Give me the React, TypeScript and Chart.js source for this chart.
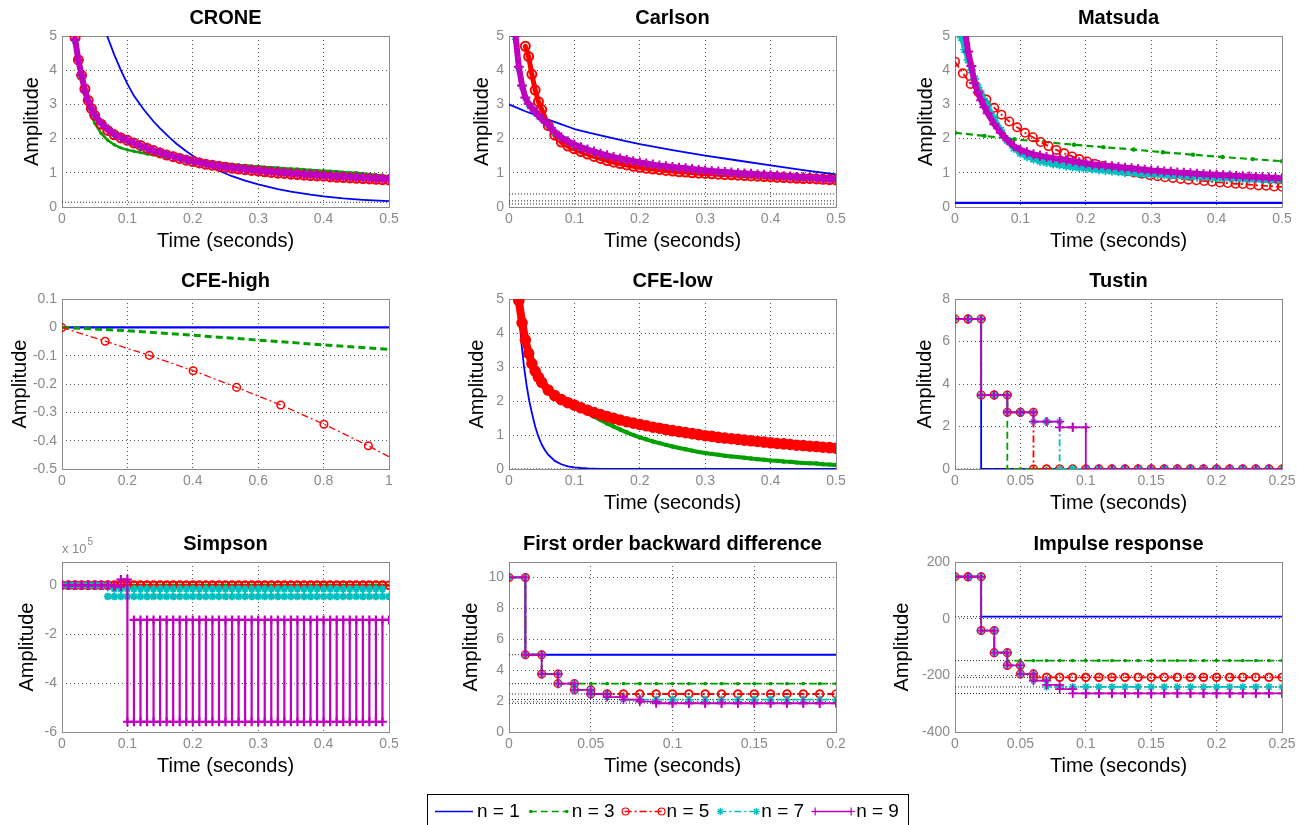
import React, { useEffect, useRef } from 'react';
import { Chart, registerables } from 'chart.js';

Chart.register(...registerables);

const FONT = '"Liberation Sans", Arial, Helvetica, sans-serif';
Chart.defaults.font.family = FONT;

// ---------------- data ----------------
const SERIES_LABELS = ['n = 1', 'n = 3', 'n = 5', 'n = 7', 'n = 9'];

// shared time grid for the continuous step responses (seconds)
const T_CONT = [
  0, 0.005, 0.01, 0.015, 0.02, 0.025, 0.03, 0.035, 0.04, 0.045, 0.05,
  0.06, 0.07, 0.08, 0.09, 0.1, 0.11, 0.12, 0.13, 0.14, 0.15,
  0.16, 0.17, 0.18, 0.19, 0.2, 0.21, 0.22, 0.23, 0.24, 0.25,
  0.26, 0.27, 0.28, 0.29, 0.3, 0.31, 0.32, 0.33, 0.34, 0.35,
  0.36, 0.37, 0.38, 0.39, 0.4, 0.41, 0.42, 0.43, 0.44, 0.45,
  0.46, 0.47, 0.48, 0.49, 0.5,
];

// sample instants of the discrete responses (Ts = 0.01 s)
const STEP_T = [
  0, 0.01, 0.02, 0.03, 0.04, 0.05, 0.06, 0.07, 0.08, 0.09,
  0.1, 0.11, 0.12, 0.13, 0.14, 0.15, 0.16, 0.17, 0.18, 0.19,
  0.2, 0.21, 0.22, 0.23, 0.24, 0.25, 0.26, 0.27, 0.28, 0.29,
  0.3, 0.31, 0.32, 0.33, 0.34, 0.35, 0.36, 0.37, 0.38, 0.39,
  0.4, 0.41, 0.42, 0.43, 0.44, 0.45, 0.46, 0.47, 0.48, 0.49, 0.5,
];

// tick values
const X_TICKS_HALF = [0, 0.1, 0.2, 0.3, 0.4, 0.5];
const X_TICKS_ONE = [0, 0.2, 0.4, 0.6, 0.8, 1];
const X_TICKS_QUARTER = [0, 0.05, 0.1, 0.15, 0.2, 0.25];
const X_TICKS_FIFTH = [0, 0.05, 0.1, 0.15, 0.2];
const Y_TICKS_FIVE = [0, 1, 2, 3, 4, 5];
const Y_TICKS_CFEH = [-0.5, -0.4, -0.3, -0.2, -0.1, 0, 0.1];
const Y_TICKS_EIGHT = [0, 2, 4, 6, 8];
const Y_TICKS_SIMP = [-600000, -400000, -200000, 0];
const Y_TICKS_TEN = [0, 2, 4, 6, 8, 10];
const Y_TICKS_IMP = [-400, -200, 0, 200];

// ---- CRONE ----
const CRONE_N1_T = [0.06, 0.069, 0.08, 0.09, 0.1, 0.11, 0.125, 0.14, 0.15, 0.165, 0.175, 0.19, 0.2, 0.22, 0.24, 0.26, 0.28, 0.3, 0.33, 0.35, 0.38, 0.4, 0.43, 0.46, 0.5];
const CRONE_N1 = [5.55, 5.0, 4.45, 4.0, 3.6, 3.25, 2.85, 2.5, 2.3, 2.02, 1.85, 1.63, 1.5, 1.26, 1.06, 0.9, 0.77, 0.66, 0.52, 0.45, 0.36, 0.31, 0.25, 0.21, 0.17];
const CRONE_N3 = [
  null, null, null, null, 4.9, 4.2, 3.7, 3.3, 2.95, 2.7, 2.45,
  2.15, 1.95, 1.82, 1.73, 1.67, 1.63, 1.59, 1.55, 1.52, 1.49,
  1.46, 1.43, 1.41, 1.38, 1.36, 1.34, 1.32, 1.3, 1.28, 1.27,
  1.25, 1.23, 1.22, 1.2, 1.19, 1.17, 1.16, 1.15, 1.13, 1.12,
  1.11, 1.1, 1.08, 1.07, 1.06, 1.05, 1.04, 1.02, 1.01, 1.0,
  0.98, 0.96, 0.94, 0.92, 0.9,
];
const CRONE_N5 = [
  null, null, null, null, 4.95, 4.3, 3.85, 3.45, 3.12, 2.88, 2.68,
  2.42, 2.24, 2.11, 2.02, 1.95, 1.87, 1.8, 1.72, 1.65, 1.58,
  1.52, 1.47, 1.42, 1.37, 1.33, 1.29, 1.25, 1.22, 1.19, 1.16,
  1.13, 1.11, 1.09, 1.07, 1.05, 1.03, 1.01, 0.99, 0.98, 0.96,
  0.95, 0.93, 0.92, 0.91, 0.9, 0.88, 0.87, 0.86, 0.85, 0.84,
  0.83, 0.82, 0.81, 0.8, 0.79,
];
const CRONE_N7 = [
  null, null, null, null, 4.85, 4.25, 3.8, 3.42, 3.1, 2.87, 2.69,
  2.44, 2.26, 2.12, 2.02, 1.94, 1.86, 1.79, 1.72, 1.65, 1.59,
  1.53, 1.48, 1.43, 1.38, 1.34, 1.3, 1.26, 1.23, 1.2, 1.17,
  1.15, 1.13, 1.11, 1.09, 1.07, 1.05, 1.04, 1.02, 1.01, 0.99,
  0.98, 0.96, 0.95, 0.94, 0.92, 0.91, 0.9, 0.89, 0.88, 0.87,
  0.86, 0.85, 0.84, 0.83, 0.82,
];
const CRONE_N9 = [
  null, null, null, null, 4.9, 4.3, 3.85, 3.4, 3.1, 2.88, 2.7,
  2.45, 2.27, 2.13, 2.03, 1.95, 1.87, 1.79, 1.72, 1.65, 1.59,
  1.53, 1.48, 1.43, 1.38, 1.34, 1.3, 1.26, 1.23, 1.2, 1.17,
  1.15, 1.13, 1.11, 1.09, 1.07, 1.05, 1.04, 1.02, 1.01, 0.99,
  0.98, 0.96, 0.95, 0.94, 0.92, 0.91, 0.9, 0.89, 0.88, 0.87,
  0.86, 0.85, 0.84, 0.83, 0.82,
];
const CRONE_SS = [0.14];

// ---- Carlson ----
const CARLSON_N1_T = [0, 0.025, 0.05, 0.075, 0.1, 0.125, 0.15, 0.175, 0.2, 0.25, 0.3, 0.35, 0.4, 0.45, 0.5];
const CARLSON_N1 = [3.0, 2.8, 2.62, 2.45, 2.28, 2.16, 2.05, 1.94, 1.84, 1.66, 1.5, 1.36, 1.22, 1.08, 0.95];
const CARLSON_N3 = [
  null, null, null, null, null, 4.6, 4.3, 3.85, 3.4, 3.07, 2.83,
  2.37, 2.09, 1.89, 1.77, 1.69, 1.61, 1.54, 1.47, 1.41, 1.35,
  1.3, 1.26, 1.22, 1.19, 1.16, 1.13, 1.11, 1.09, 1.07, 1.05,
  1.03, 1.02, 1.0, 0.99, 0.98, 0.97, 0.96, 0.95, 0.94, 0.93,
  0.92, 0.91, 0.9, 0.89, 0.88, 0.87, 0.86, 0.85, 0.84, 0.83,
  0.83, 0.82, 0.81, 0.8, 0.79,
];
const CARLSON_N5 = [
  null, null, null, null, null, 4.7, 4.4, 3.88, 3.42, 3.08, 2.85,
  2.38, 2.1, 1.9, 1.78, 1.7, 1.62, 1.55, 1.48, 1.42, 1.36,
  1.31, 1.27, 1.23, 1.19, 1.16, 1.13, 1.11, 1.09, 1.07, 1.05,
  1.03, 1.02, 1.0, 0.99, 0.98, 0.97, 0.96, 0.95, 0.94, 0.93,
  0.92, 0.91, 0.9, 0.89, 0.88, 0.87, 0.86, 0.85, 0.84, 0.83,
  0.83, 0.82, 0.81, 0.8, 0.79,
];
const CARLSON_N7 = [
  null, null, 4.9, 4.05, 3.52, 3.18, 3.0, 2.88, 2.76, 2.66, 2.56,
  2.38, 2.18, 2.02, 1.9, 1.81, 1.73, 1.66, 1.6, 1.55, 1.5,
  1.45, 1.41, 1.37, 1.33, 1.29, 1.26, 1.23, 1.2, 1.18, 1.16,
  1.14, 1.12, 1.1, 1.08, 1.06, 1.04, 1.03, 1.01, 1.0, 0.98,
  0.97, 0.96, 0.94, 0.93, 0.92, 0.91, 0.89, 0.88, 0.87, 0.86,
  0.85, 0.84, 0.82, 0.81, 0.8,
];
const CARLSON_N9 = [
  null, null, 5.0, 4.1, 3.55, 3.2, 3.02, 2.9, 2.78, 2.68, 2.58,
  2.4, 2.2, 2.04, 1.92, 1.83, 1.75, 1.68, 1.62, 1.56, 1.51,
  1.46, 1.42, 1.38, 1.34, 1.3, 1.27, 1.24, 1.21, 1.19, 1.17,
  1.15, 1.13, 1.11, 1.09, 1.07, 1.05, 1.04, 1.02, 1.01, 0.99,
  0.98, 0.97, 0.95, 0.94, 0.93, 0.92, 0.9, 0.89, 0.88, 0.87,
  0.86, 0.85, 0.83, 0.82, 0.81,
];
const CARLSON_SS = [0.38, 0.18, 0.09];

// ---- Matsuda ----
const MATSUDA_N1_T = [0, 0.5];
const MATSUDA_N1 = [0.12, 0.12];
const MATSUDA_N3_T = [0, 0.045, 0.091, 0.136, 0.182, 0.227, 0.273, 0.318, 0.364, 0.409, 0.455, 0.5];
const MATSUDA_N3 = [2.17, 2.08, 1.98, 1.9, 1.82, 1.75, 1.68, 1.6, 1.53, 1.46, 1.4, 1.34];
const MATSUDA_N5_T = [
  0, 0.012, 0.024, 0.036, 0.048, 0.06, 0.071, 0.083, 0.095, 0.107,
  0.119, 0.131, 0.143, 0.155, 0.167, 0.179, 0.19, 0.202, 0.214, 0.226,
  0.238, 0.25, 0.262, 0.274, 0.286, 0.298, 0.31, 0.321, 0.333, 0.345,
  0.357, 0.369, 0.381, 0.393, 0.405, 0.417, 0.429, 0.44, 0.452, 0.464,
  0.476, 0.488, 0.5,
];
const MATSUDA_N5 = [
  4.25, 3.91, 3.6, 3.35, 3.14, 2.9, 2.7, 2.5, 2.33, 2.17,
  2.04, 1.9, 1.78, 1.67, 1.57, 1.48, 1.4, 1.33, 1.26, 1.2,
  1.14, 1.09, 1.05, 1.01, 0.97, 0.93, 0.9, 0.87, 0.85, 0.82,
  0.8, 0.78, 0.76, 0.74, 0.72, 0.7, 0.68, 0.67, 0.65, 0.63,
  0.62, 0.6, 0.59,
];
const MATSUDA_N7 = [
  null, null, 4.95, 4.6, 4.3, 4.0, 3.75, 3.5, 3.3, 3.1, 2.95,
  2.6, 2.25, 1.95, 1.72, 1.57, 1.47, 1.4, 1.34, 1.3, 1.26,
  1.23, 1.2, 1.17, 1.15, 1.13, 1.11, 1.09, 1.07, 1.05, 1.03,
  1.01, 1.0, 0.98, 0.97, 0.96, 0.95, 0.94, 0.93, 0.92, 0.91,
  0.9, 0.89, 0.88, 0.87, 0.86, 0.85, 0.85, 0.84, 0.83, 0.82,
  0.82, 0.81, 0.8, 0.8, 0.79,
];
const MATSUDA_N9 = [
  null, null, null, 5.2, 4.55, 4.12, 3.62, 3.35, 3.12, 2.92, 2.74,
  2.42, 2.17, 1.95, 1.78, 1.67, 1.6, 1.54, 1.5, 1.46, 1.43,
  1.4, 1.37, 1.34, 1.31, 1.28, 1.25, 1.23, 1.21, 1.19, 1.17,
  1.15, 1.13, 1.11, 1.09, 1.07, 1.06, 1.04, 1.03, 1.01, 1.0,
  0.99, 0.97, 0.96, 0.95, 0.94, 0.93, 0.92, 0.91, 0.9, 0.89,
  0.88, 0.87, 0.86, 0.85, 0.84,
];
const MATSUDA_SS = [0.12];

// ---- CFE-high ----
const CFEH_N1_T = [0, 1];
const CFEH_N1 = [0, 0];
const CFEH_N3_T = [0, 0.2, 0.4, 0.6, 0.8, 1];
const CFEH_N3 = [0, -0.012, -0.028, -0.045, -0.062, -0.078];
const CFEH_N5_T = [0, 0.132, 0.267, 0.401, 0.534, 0.669, 0.801, 0.937, 1];
const CFEH_N5 = [-0.001, -0.049, -0.099, -0.153, -0.212, -0.274, -0.342, -0.418, -0.457];

// ---- CFE-low ----
const CFEL_N1_T = [0.012, 0.015, 0.019, 0.023, 0.027, 0.031, 0.035, 0.04, 0.045, 0.05, 0.055, 0.06, 0.07, 0.08, 0.09, 0.1, 0.11, 0.12, 0.14, 0.5];
const CFEL_N1 = [5.3, 4.65, 3.7, 3.0, 2.45, 2.0, 1.65, 1.25, 0.95, 0.72, 0.55, 0.42, 0.24, 0.14, 0.08, 0.05, 0.03, 0.015, 0.005, 0];
const CFEL_N3 = [
  null, null, null, 5.0, 4.2, 3.7, 3.35, 3.05, 2.82, 2.64, 2.5,
  2.28, 2.12, 2.0, 1.92, 1.86, 1.76, 1.65, 1.54, 1.44, 1.34,
  1.25, 1.16, 1.08, 1.0, 0.93, 0.87, 0.81, 0.76, 0.71, 0.66,
  0.62, 0.58, 0.54, 0.5, 0.47, 0.44, 0.42, 0.39, 0.37, 0.35,
  0.33, 0.31, 0.29, 0.27, 0.25, 0.24, 0.22, 0.21, 0.19, 0.18,
  0.17, 0.16, 0.14, 0.13, 0.12,
];
const CFEL_N5 = [
  null, null, null, 4.95, 4.3, 3.8, 3.4, 3.1, 2.88, 2.7, 2.55,
  2.32, 2.16, 2.04, 1.95, 1.88, 1.8, 1.73, 1.66, 1.6, 1.54,
  1.49, 1.44, 1.39, 1.35, 1.31, 1.27, 1.23, 1.2, 1.16, 1.13,
  1.1, 1.07, 1.04, 1.01, 0.98, 0.96, 0.93, 0.91, 0.89, 0.87,
  0.85, 0.83, 0.81, 0.79, 0.77, 0.75, 0.74, 0.72, 0.7, 0.69,
  0.67, 0.66, 0.64, 0.63, 0.61,
];
const CFEL_SS = [0];

// ---- Tustin (sample values, Ts = 0.01) ----
const TUSTIN_N1 = [7.06, 7.06, 0, 0, 0, 0, 0, 0, 0, 0, 0, 0, 0, 0, 0, 0, 0, 0, 0, 0, 0, 0, 0, 0, 0];
const TUSTIN_N3 = [7.06, 7.06, 3.48, 3.48, 0, 0, 0, 0, 0, 0, 0, 0, 0, 0, 0, 0, 0, 0, 0, 0, 0, 0, 0, 0, 0];
const TUSTIN_N5 = [7.06, 7.06, 3.48, 3.48, 2.67, 2.67, 0, 0, 0, 0, 0, 0, 0, 0, 0, 0, 0, 0, 0, 0, 0, 0, 0, 0, 0];
const TUSTIN_N7 = [7.06, 7.06, 3.48, 3.48, 2.67, 2.67, 2.23, 2.23, 0, 0, 0, 0, 0, 0, 0, 0, 0, 0, 0, 0, 0, 0, 0, 0, 0];
const TUSTIN_N9 = [7.06, 7.06, 3.48, 3.48, 2.67, 2.67, 2.23, 2.23, 1.96, 1.96, 0, 0, 0, 0, 0, 0, 0, 0, 0, 0, 0, 0, 0, 0, 0];
const TUSTIN_SS = [0];

// ---- Simpson (sample values, Ts = 0.01) ----
const SIMP_N1 = [
  0, 0, 0, 0, 0, 0, 0, 0, 0, 0, 0, 0, 0, 0, 0, 0, 0, 0, 0, 0, 0, 0, 0, 0, 0,
  0, 0, 0, 0, 0, 0, 0, 0, 0, 0, 0, 0, 0, 0, 0, 0, 0, 0, 0, 0, 0, 0, 0, 0, 0,
];
const SIMP_N3 = [
  0, 0, 0, 0, 0, 0, 0, 0, 0, 0, 0, 0, 0, 0, 0, 0, 0, 0, 0, 0, 0, 0, 0, 0, 0,
  0, 0, 0, 0, 0, 0, 0, 0, 0, 0, 0, 0, 0, 0, 0, 0, 0, 0, 0, 0, 0, 0, 0, 0, 0,
];
const SIMP_N5 = [
  0, 0, 0, 0, 0, 0, 0, 0, 0, 0, 0, 0, 0, 0, 0, 0, 0, 0, 0, 0, 0, 0, 0, 0, 0,
  0, 0, 0, 0, 0, 0, 0, 0, 0, 0, 0, 0, 0, 0, 0, 0, 0, 0, 0, 0, 0, 0, 0, 0, 0,
];
const SIMP_N7 = [
  0, 0, 0, 0, 0, 0, 0, -46000, -15000, -46000,
  -15000, -46000, -15000, -46000, -15000, -46000, -15000, -46000, -15000, -46000,
  -15000, -46000, -15000, -46000, -15000, -46000, -15000, -46000, -15000, -46000,
  -15000, -46000, -15000, -46000, -15000, -46000, -15000, -46000, -15000, -46000,
  -15000, -46000, -15000, -46000, -15000, -46000, -15000, -46000, -15000, -46000,
];
const SIMP_N9 = [
  0, 0, 0, 0, 0, 0, 0, 0, -5000, 23000,
  -558000, -142000, -558000, -142000, -558000, -142000, -558000, -142000, -558000, -142000,
  -558000, -142000, -558000, -142000, -558000, -142000, -558000, -142000, -558000, -142000,
  -558000, -142000, -558000, -142000, -558000, -142000, -558000, -142000, -558000, -142000,
  -558000, -142000, -558000, -142000, -558000, -142000, -558000, -142000, -558000, -142000,
];
const SIMP_SS = [0];

// ---- First order backward difference (sample values, Ts = 0.01) ----
const FOBD_N1 = [10, 5, 5, 5, 5, 5, 5, 5, 5, 5, 5, 5, 5, 5, 5, 5, 5, 5, 5, 5];
const FOBD_N3 = [10, 5, 3.75, 3.13, 3.13, 3.13, 3.13, 3.13, 3.13, 3.13, 3.13, 3.13, 3.13, 3.13, 3.13, 3.13, 3.13, 3.13, 3.13, 3.13];
const FOBD_N5 = [10, 5, 3.75, 3.13, 2.73, 2.46, 2.46, 2.46, 2.46, 2.46, 2.46, 2.46, 2.46, 2.46, 2.46, 2.46, 2.46, 2.46, 2.46, 2.46];
const FOBD_N7 = [10, 5, 3.75, 3.13, 2.73, 2.46, 2.26, 2.1, 2.1, 2.1, 2.1, 2.1, 2.1, 2.1, 2.1, 2.1, 2.1, 2.1, 2.1, 2.1];
const FOBD_N9 = [10, 5, 3.75, 3.13, 2.73, 2.46, 2.26, 2.1, 1.96, 1.86, 1.86, 1.86, 1.86, 1.86, 1.86, 1.86, 1.86, 1.86, 1.86, 1.86];
const FOBD_SS = [5, 3.13, 2.46, 2.1, 1.86];

// ---- Impulse response (sample values, Ts = 0.01) ----
const IMP_N1 = [148, 148, 7, 7, 7, 7, 7, 7, 7, 7, 7, 7, 7, 7, 7, 7, 7, 7, 7, 7, 7, 7, 7, 7, 7];
const IMP_N3 = [148, 148, -42, -120, -148, -148, -148, -148, -148, -148, -148, -148, -148, -148, -148, -148, -148, -148, -148, -148, -148, -148, -148, -148, -148];
const IMP_N5 = [148, 148, -42, -120, -165, -195, -207, -207, -207, -207, -207, -207, -207, -207, -207, -207, -207, -207, -207, -207, -207, -207, -207, -207, -207];
const IMP_N7 = [148, 148, -42, -120, -165, -195, -219, -241, -241, -241, -241, -241, -241, -241, -241, -241, -241, -241, -241, -241, -241, -241, -241, -241, -241];
const IMP_N9 = [148, 148, -42, -120, -165, -195, -219, -234, -249, -264, -264, -264, -264, -264, -264, -264, -264, -264, -264, -264, -264, -264, -264, -264, -264];
const IMP_SS = [7, -148, -207, -241, -264];

// ---------------- styles ----------------
const COLORS = ['#0000ff', '#00a000', '#ff0000', '#00bfbf', '#bf00bf'];
const DASHES = [[], [7, 4], [7, 3, 2, 3], [7, 3, 2, 3], []];
const MARKERS = ['none', 'dot', 'circle', 'star', 'cross'];
const MARKER_R = [0, 1.7, 3.8, 3.8, 4.5];
const MARKER_W = [1, 0, 1.5, 1.3, 1.8];
const TICK_COLOR = '#8a8a8a';
const BOX_COLOR = '#8a8a8a';
const GRID_COLOR = '#5a5a5a';

const ROW_TOP = [36, 299, 562];
const ROW_H = [171, 170, 170];
const COL_LEFT = [62, 509, 955];
const PLOT_W = 327;
const Y_AXIS_W = 72;
const X_AXIS_H = 50;
const TITLE_H = 40;
const RIGHT_PAD = 20;

type Series = {
  n: number; t?: number[]; v: (number | null)[]; stairs?: boolean; width?: number; radii?: number[];
  pw?: number; pr?: number; solid?: boolean;
};
type Sub = {
  title: string; row: number; col: number; x: [number, number]; xt: number[]; y: [number, number]; yt: number[];
  yPad: number; xTitle: boolean; ss: number[]; series: Series[]; yScale?: number; exponent?: boolean;
};

// dense-marker bands of the reference are rendered as a wide stroke with markers on top
const SUBPLOTS: Sub[] = [
  {
    title: 'CRONE', row: 0, col: 0, x: [0, 0.5], xt: X_TICKS_HALF, y: [0, 5], yt: Y_TICKS_FIVE, yPad: 30, xTitle: true, ss: CRONE_SS,
    series: [
      { n: 0, t: CRONE_N1_T, v: CRONE_N1 },
      { n: 1, t: T_CONT, v: CRONE_N3, width: 2.5, solid: true },
      { n: 2, t: T_CONT, v: CRONE_N5, width: 5, solid: true, pr: 4.5, pw: 2 },
      { n: 3, t: T_CONT, v: CRONE_N7, width: 4, solid: true },
      { n: 4, t: T_CONT, v: CRONE_N9, width: 6, pr: 5, pw: 2 },
    ],
  },
  {
    title: 'Carlson', row: 0, col: 1, x: [0, 0.5], xt: X_TICKS_HALF, y: [0, 5], yt: Y_TICKS_FIVE, yPad: 33, xTitle: true, ss: CARLSON_SS,
    series: [
      { n: 0, t: CARLSON_N1_T, v: CARLSON_N1 },
      { n: 1, t: T_CONT, v: CARLSON_N3, width: 2.5, solid: true },
      { n: 2, t: T_CONT, v: CARLSON_N5, width: 5, solid: true, pr: 4.5, pw: 2 },
      { n: 3, t: T_CONT, v: CARLSON_N7, width: 4, solid: true },
      { n: 4, t: T_CONT, v: CARLSON_N9, width: 6, pr: 5, pw: 2 },
    ],
  },
  {
    title: 'Matsuda', row: 0, col: 2, x: [0, 0.5], xt: X_TICKS_HALF, y: [0, 5], yt: Y_TICKS_FIVE, yPad: 31, xTitle: true, ss: MATSUDA_SS,
    series: [
      { n: 0, t: MATSUDA_N1_T, v: MATSUDA_N1, width: 2.2 },
      { n: 1, t: MATSUDA_N3_T, v: MATSUDA_N3, width: 2.2, pr: 2.2 },
      { n: 2, t: MATSUDA_N5_T, v: MATSUDA_N5, pr: 4.2, pw: 1.6 },
      { n: 3, t: T_CONT, v: MATSUDA_N7, width: 5, solid: true, pr: 4.5, pw: 1.8 },
      { n: 4, t: T_CONT, v: MATSUDA_N9, width: 6, pr: 5, pw: 2 },
    ],
  },
  {
    title: 'CFE-high', row: 1, col: 0, x: [0, 1], xt: X_TICKS_ONE, y: [-0.5, 0.1], yt: Y_TICKS_CFEH, yPad: 18, xTitle: false, ss: [],
    series: [
      { n: 0, t: CFEH_N1_T, v: CFEH_N1, width: 2.2 },
      { n: 1, t: CFEH_N3_T, v: CFEH_N3, width: 3, radii: [2, 0, 0, 0, 0, 0] },
      { n: 2, t: CFEH_N5_T, v: CFEH_N5, width: 1.3, radii: [3.8, 3.8, 3.8, 3.8, 3.8, 3.8, 3.8, 3.8, 0] },
    ],
  },
  {
    title: 'CFE-low', row: 1, col: 1, x: [0, 0.5], xt: X_TICKS_HALF, y: [0, 5], yt: Y_TICKS_FIVE, yPad: 28, xTitle: true, ss: CFEL_SS,
    series: [
      { n: 0, t: CFEL_N1_T, v: CFEL_N1 },
      { n: 1, t: T_CONT, v: CFEL_N3, width: 4, solid: true, pr: 2.2 },
      { n: 2, t: T_CONT, v: CFEL_N5, width: 8, solid: true, pw: 2.6, pr: 4.5 },
    ],
  },
  {
    title: 'Tustin', row: 1, col: 2, x: [0, 0.25], xt: X_TICKS_QUARTER, y: [0, 8], yt: Y_TICKS_EIGHT, yPad: 30, xTitle: true, ss: TUSTIN_SS,
    series: [
      { n: 0, v: TUSTIN_N1, stairs: true }, { n: 1, v: TUSTIN_N3, stairs: true }, { n: 2, v: TUSTIN_N5, stairs: true },
      { n: 3, v: TUSTIN_N7, stairs: true }, { n: 4, v: TUSTIN_N9, stairs: true },
    ],
  },
  {
    title: 'Simpson', row: 2, col: 0, x: [0, 0.5], xt: X_TICKS_HALF, y: [-600000, 95000], yt: Y_TICKS_SIMP, yPad: 25, xTitle: true, ss: SIMP_SS,
    yScale: 100000, exponent: true,
    series: [
      { n: 0, v: SIMP_N1, stairs: true }, { n: 1, v: SIMP_N3, stairs: true }, { n: 2, v: SIMP_N5, stairs: true, pw: 2 },
      { n: 3, v: SIMP_N7, stairs: true, pw: 2 }, { n: 4, v: SIMP_N9, stairs: true, width: 2.2, pw: 2.2 },
    ],
  },
  {
    title: 'First order backward difference', row: 2, col: 1, x: [0, 0.2], xt: X_TICKS_FIFTH, y: [0, 11], yt: Y_TICKS_TEN, yPad: 22, xTitle: true, ss: FOBD_SS,
    series: [
      { n: 0, v: FOBD_N1, stairs: true }, { n: 1, v: FOBD_N3, stairs: true }, { n: 2, v: FOBD_N5, stairs: true },
      { n: 3, v: FOBD_N7, stairs: true }, { n: 4, v: FOBD_N9, stairs: true },
    ],
  },
  {
    title: 'Impulse response', row: 2, col: 2, x: [0, 0.25], xt: X_TICKS_QUARTER, y: [-400, 200], yt: Y_TICKS_IMP, yPad: 7, xTitle: true, ss: IMP_SS,
    series: [
      { n: 0, v: IMP_N1, stairs: true }, { n: 1, v: IMP_N3, stairs: true }, { n: 2, v: IMP_N5, stairs: true },
      { n: 3, v: IMP_N7, stairs: true }, { n: 4, v: IMP_N9, stairs: true },
    ],
  },
];

// ---------------- helpers ----------------
function fmt(v: number): string {
  const r = Math.round(v * 1e6) / 1e6;
  return String(r === 0 ? 0 : r);
}

function toPoints(ts: number[], vs: (number | null)[]) {
  const out: { x: number; y: number }[] = [];
  vs.forEach((v, i) => {
    if (v !== null && v !== undefined) out.push({ x: ts[i], y: v });
  });
  return out;
}

function stairPoints(vs: (number | null)[]) {
  const out: { x: number; y: number }[] = [];
  for (let k = 0; k < vs.length; k++) {
    const v = vs[k] as number;
    out.push({ x: STEP_T[k], y: v }, { x: STEP_T[k + 1], y: v });
  }
  return out;
}

function markerStyle(i: number) {
  const m = MARKERS[i];
  if (m === 'none') return { pointRadius: 0 };
  if (m === 'dot')
    return { pointStyle: 'circle', pointRadius: MARKER_R[i], pointBackgroundColor: COLORS[i], pointBorderColor: COLORS[i], pointBorderWidth: 0 };
  return { pointStyle: m, pointRadius: MARKER_R[i], pointBackgroundColor: 'rgba(0,0,0,0)', pointBorderColor: COLORS[i], pointBorderWidth: MARKER_W[i] };
}

function seriesDataset(s: Series) {
  const i = s.n;
  const data = s.stairs ? stairPoints(s.v) : toPoints(s.t as number[], s.v);
  const ds: any = {
    label: SERIES_LABELS[i],
    data,
    borderColor: COLORS[i],
    borderWidth: s.width ?? 1.8,
    borderDash: s.solid ? [] : DASHES[i],
    borderJoinStyle: 'round',
    borderCapStyle: 'round',
    order: 10 - 2 * i,
    pointHoverRadius: 0,
    ...markerStyle(i),
  };
  if (!s.solid && DASHES[i].length) ds.borderCapStyle = 'butt';
  if (s.pr !== undefined) ds.pointRadius = s.pr;
  if (s.pw !== undefined) ds.pointBorderWidth = s.pw;
  if (s.radii) ds.pointRadius = s.radii;
  return ds;
}

function steadyDataset(v: number, x0: number, x1: number) {
  return {
    label: 'steady',
    data: [{ x: x0, y: v }, { x: x1, y: v }],
    borderColor: '#222222',
    borderWidth: 1,
    borderDash: [1, 2],
    pointRadius: 0,
    pointHoverRadius: 0,
    order: 50,
  };
}

const boxPlugin = {
  id: 'matlabBox',
  beforeDatasetsDraw(chart: any) {
    const { ctx, chartArea: a } = chart;
    ctx.save();
    ctx.strokeStyle = BOX_COLOR;
    ctx.lineWidth = 1;
    ctx.setLineDash([]);
    ctx.strokeRect(Math.round(a.left) + 0.5, Math.round(a.top) + 0.5, Math.round(a.right - a.left), Math.round(a.bottom - a.top));
    ctx.restore();
  },
};

function exponentPlugin(show: boolean) {
  return {
    id: 'exponentLabel',
    afterDraw(chart: any) {
      if (!show) return;
      const { ctx, chartArea: a } = chart;
      ctx.save();
      ctx.fillStyle = TICK_COLOR;
      ctx.textBaseline = 'middle';
      ctx.textAlign = 'left';
      ctx.font = `13px ${FONT}`;
      ctx.fillText('x 10', a.left, a.top - 13);
      const w = ctx.measureText('x 10').width;
      ctx.font = `10px ${FONT}`;
      ctx.fillText('5', a.left + w + 1, a.top - 20);
      ctx.restore();
    },
  };
}

function buildConfig(cfg: Sub): any {
  const datasets: any[] = cfg.series.map(seriesDataset);
  cfg.ss.forEach((v) => datasets.push(steadyDataset(v, cfg.x[0], cfg.x[1])));
  const yScale = cfg.yScale ?? 1;
  const tickFont = { family: FONT, size: 14 };
  return {
    type: 'line',
    data: { datasets },
    options: {
      responsive: false,
      animation: false,
      events: [],
      layout: { padding: { left: 0, right: RIGHT_PAD, top: 0, bottom: 0 } },
      plugins: {
        legend: { display: false },
        tooltip: { enabled: false },
        title: {
          display: true,
          text: cfg.title,
          fullSize: false,
          color: '#000',
          font: { family: FONT, size: 20, weight: 'bold', lineHeight: 1.2 },
          padding: { top: 10, bottom: 6 },
        },
      },
      scales: {
        x: {
          type: 'linear',
          min: cfg.x[0],
          max: cfg.x[1],
          afterBuildTicks: (s: any) => {
            s.ticks = cfg.xt.map((v) => ({ value: v }));
          },
          afterFit: (s: any) => {
            s.height = X_AXIS_H;
          },
          ticks: { color: TICK_COLOR, font: tickFont, padding: 4, autoSkip: false, maxRotation: 0, minRotation: 0, callback: (v: number) => fmt(v) },
          grid: { color: GRID_COLOR, lineWidth: 1, drawTicks: false },
          border: { display: false, dash: [1, 3] },
          title: {
            display: cfg.xTitle,
            text: 'Time (seconds)',
            color: '#000',
            font: { family: FONT, size: 20, lineHeight: 1.2 },
            padding: { top: 0, bottom: 4 },
          },
        },
        y: {
          type: 'linear',
          min: cfg.y[0],
          max: cfg.y[1],
          afterBuildTicks: (s: any) => {
            s.ticks = cfg.yt.map((v) => ({ value: v }));
          },
          afterFit: (s: any) => {
            s.width = Y_AXIS_W;
          },
          ticks: { color: TICK_COLOR, font: tickFont, padding: 5, autoSkip: false, callback: (v: number) => fmt(v / yScale) },
          grid: { color: GRID_COLOR, lineWidth: 1, drawTicks: false },
          border: { display: false, dash: [1, 3] },
          title: {
            display: true,
            text: 'Amplitude',
            color: '#000',
            font: { family: FONT, size: 20, lineHeight: 1.2 },
            padding: { top: cfg.yPad, bottom: 0 },
          },
        },
      },
    },
    plugins: [boxPlugin, exponentPlugin(!!cfg.exponent)],
  };
}

function Subplot({ cfg }: { cfg: Sub }) {
  const ref = useRef<HTMLCanvasElement | null>(null);
  const plotLeft = COL_LEFT[cfg.col];
  const plotTop = ROW_TOP[cfg.row];
  const h = ROW_H[cfg.row];
  const width = Y_AXIS_W + PLOT_W + RIGHT_PAD;
  const height = TITLE_H + h + X_AXIS_H;
  useEffect(() => {
    if (!ref.current) return;
    const chart = new Chart(ref.current, buildConfig(cfg));
    return () => chart.destroy();
  }, [cfg]);
  return (
    <canvas
      ref={ref}
      width={width}
      height={height}
      style={{ position: 'absolute', left: plotLeft - Y_AXIS_W, top: plotTop - TITLE_H, width, height }}
    />
  );
}

// ---------------- legend ----------------
function drawMarker(ctx: CanvasRenderingContext2D, kind: string, x: number, y: number, color: string) {
  ctx.save();
  ctx.strokeStyle = color;
  ctx.fillStyle = color;
  ctx.setLineDash([]);
  ctx.lineWidth = 1.2;
  ctx.beginPath();
  if (kind === 'dot') {
    ctx.arc(x, y, 1.8, 0, Math.PI * 2);
    ctx.fill();
  } else if (kind === 'circle') {
    ctx.arc(x, y, 3.5, 0, Math.PI * 2);
    ctx.stroke();
  } else if (kind === 'cross') {
    ctx.moveTo(x - 4, y);
    ctx.lineTo(x + 4, y);
    ctx.moveTo(x, y - 4);
    ctx.lineTo(x, y + 4);
    ctx.stroke();
  } else if (kind === 'star') {
    const d = 3.5 * Math.SQRT1_2;
    ctx.moveTo(x - 3.5, y);
    ctx.lineTo(x + 3.5, y);
    ctx.moveTo(x, y - 3.5);
    ctx.lineTo(x, y + 3.5);
    ctx.moveTo(x - d, y - d);
    ctx.lineTo(x + d, y + d);
    ctx.moveTo(x - d, y + d);
    ctx.lineTo(x + d, y - d);
    ctx.stroke();
  }
  ctx.restore();
}

const legendPlugin = {
  id: 'matlabLegend',
  afterDraw(chart: any) {
    const ctx: CanvasRenderingContext2D = chart.ctx;
    ctx.save();
    ctx.strokeStyle = '#000';
    ctx.lineWidth = 1;
    ctx.strokeRect(7.5, 9.5, 481, 60);
    ctx.font = `19px ${FONT}`;
    ctx.textBaseline = 'middle';
    ctx.textAlign = 'left';
    let x = 15;
    const y = 26;
    chart.data.datasets.forEach((ds: any, i: number) => {
      ctx.strokeStyle = COLORS[i];
      ctx.lineWidth = 1.3;
      ctx.setLineDash(DASHES[i]);
      ctx.beginPath();
      ctx.moveTo(x, y + 0.5);
      ctx.lineTo(x + 38, y + 0.5);
      ctx.stroke();
      ctx.setLineDash([]);
      if (MARKERS[i] !== 'none') {
        drawMarker(ctx, MARKERS[i], x + 1, y + 0.5, COLORS[i]);
        drawMarker(ctx, MARKERS[i], x + 37, y + 0.5, COLORS[i]);
      }
      ctx.fillStyle = '#000';
      ctx.fillText(ds.label, x + 42, y + 1);
      x += 42 + ctx.measureText(ds.label).width + 10;
    });
    ctx.restore();
  },
};

function LegendBox() {
  const ref = useRef<HTMLCanvasElement | null>(null);
  useEffect(() => {
    if (!ref.current) return;
    const chart = new Chart(ref.current, {
      type: 'line',
      data: {
        datasets: SERIES_LABELS.map((label, i) => ({
          label,
          data: [],
          borderColor: COLORS[i],
          borderDash: DASHES[i],
        })),
      },
      options: {
        responsive: false,
        animation: false,
        events: [],
        plugins: { legend: { display: false }, tooltip: { enabled: false }, title: { display: false } },
        scales: { x: { display: false }, y: { display: false } },
      },
      plugins: [legendPlugin],
    } as any);
    return () => chart.destroy();
  }, []);
  return <canvas ref={ref} width={500} height={40} style={{ position: 'absolute', left: 420, top: 785, width: 500, height: 40 }} />;
}

export default function App() {
  return (
    <div style={{ position: 'absolute', left: 0, top: 0, width: 1308, height: 825, overflow: 'hidden', background: '#ffffff' }}>
      {SUBPLOTS.map((cfg) => (
        <Subplot key={cfg.title} cfg={cfg} />
      ))}
      <LegendBox />
    </div>
  );
}
